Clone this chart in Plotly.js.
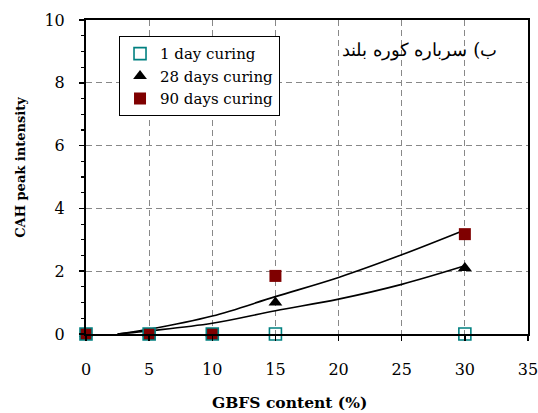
<!DOCTYPE html>
<html>
<head>
<meta charset="utf-8">
<script src="https://cdn.plot.ly/plotly-3.0.1.min.js"></script>
<style>html,body{margin:0;padding:0;background:#fff;}#chart{width:538px;height:413px;}</style>
</head>
<body>
<div id="chart"></div>
<script>
// GBFS content (%)
var gbfs = [0, 5, 10, 15, 30];
// CAH peak intensity per curing age
var day1 = [0, 0, 0, 0, 0];
var day28 = [0, 0, 0, 1.0, 2.1];
var day90 = [0, 0, 0, 1.85, 3.18];
// trend curves
var trendX = [2.5, 5, 10, 15, 20, 25, 30];
var trend28 = [0, 0.1, 0.34, 0.74, 1.11, 1.58, 2.17];
var trend90 = [0, 0.15, 0.57, 1.19, 1.80, 2.52, 3.31];

var seriesNames = ['1 day curing', '28 days curing', '90 days curing'];
var xTickVals = [0, 5, 10, 15, 20, 25, 30, 35];
var yTickVals = [0, 2, 4, 6, 8, 10];
var panelLabel = 'ب) سرباره کوره بلند';
var xTitle = 'GBFS content (%)';
var yTitle = 'CAH peak intensity';

var serif = 'DejaVu Serif';

var traces = [
  {x: trendX, y: trend28, mode: 'lines', line: {color: '#000', width: 1.6, shape: 'spline'}, showlegend: false, hoverinfo: 'skip'},
  {x: trendX, y: trend90, mode: 'lines', line: {color: '#000', width: 1.6, shape: 'spline'}, showlegend: false, hoverinfo: 'skip'},
  {x: gbfs, y: day28, name: seriesNames[1], mode: 'markers', legendrank: 2, cliponaxis: false,
   marker: {symbol: 'triangle-up', size: 12, color: '#000'}},
  {x: gbfs, y: day90, name: seriesNames[2], mode: 'markers', legendrank: 3, cliponaxis: false,
   marker: {symbol: 'square', size: 12, color: '#7f0000'}},
  {x: gbfs, y: day1, name: seriesNames[0], mode: 'markers', legendrank: 1, cliponaxis: false,
   marker: {symbol: 'square-open', size: 12, color: '#008080', line: {width: 1.6, color: '#008080'}}}
];

var layout = {
  width: 538, height: 413,
  margin: {l: 86, r: 10, t: 20, b: 79},
  paper_bgcolor: '#fff', plot_bgcolor: '#fff',
  font: {family: serif, size: 16, color: '#000'},
  showlegend: true,
  legend: {
    x: 0.0747, y: 0.948, xanchor: 'left', yanchor: 'top',
    bgcolor: '#fff', bordercolor: '#000', borderwidth: 1,
    font: {family: serif, size: 15, color: '#000'},
    tracegroupgap: 0
  },
  xaxis: {
    range: [0, 35], tickvals: xTickVals, ticks: 'outside', ticklen: 5, tickwidth: 1.5, tickcolor: '#000',
    showline: true, linecolor: '#000', linewidth: 2, mirror: true,
    showgrid: true, gridcolor: '#888', gridwidth: 1.2, griddash: '6px,4px',
    zeroline: false, ticklabelstandoff: 15, ticklabeloverflow: 'allow',
    tickfont: {family: serif, size: 16}
  },
  yaxis: {
    range: [0, 10], tickvals: yTickVals, ticks: 'outside', ticklen: 5, tickwidth: 1.5, tickcolor: '#000',
    minor: {dtick: 0.5, ticks: 'outside', ticklen: 3, tickwidth: 1.2, tickcolor: '#000', showgrid: false},
    showline: true, linecolor: '#000', linewidth: 2, mirror: true,
    showgrid: true, gridcolor: '#888', gridwidth: 1.2, griddash: '6px,4px',
    zeroline: false, ticklabelstandoff: 11,
    tickfont: {family: serif, size: 16}
  },
  annotations: [
    {xref: 'paper', yref: 'paper', x: 0.755, y: 0.905, xanchor: 'center', yanchor: 'middle',
     text: panelLabel, showarrow: false, font: {family: serif, size: 18, color: '#000'}},
    {xref: 'paper', yref: 'paper', x: 0.4615, y: -0.2166, xanchor: 'center', yanchor: 'middle',
     text: '<b>' + xTitle + '</b>', showarrow: false, font: {family: serif, size: 15.5, color: '#000'}},
    {xref: 'paper', yref: 'paper', x: -0.149, y: 0.53, xanchor: 'center', yanchor: 'middle', textangle: -90,
     text: '<b>' + yTitle + '</b>', showarrow: false, font: {family: serif, size: 13, color: '#000'}}
  ]
};

Plotly.newPlot('chart', traces, layout, {displayModeBar: false, staticPlot: true});
</script>
</body>
</html>
